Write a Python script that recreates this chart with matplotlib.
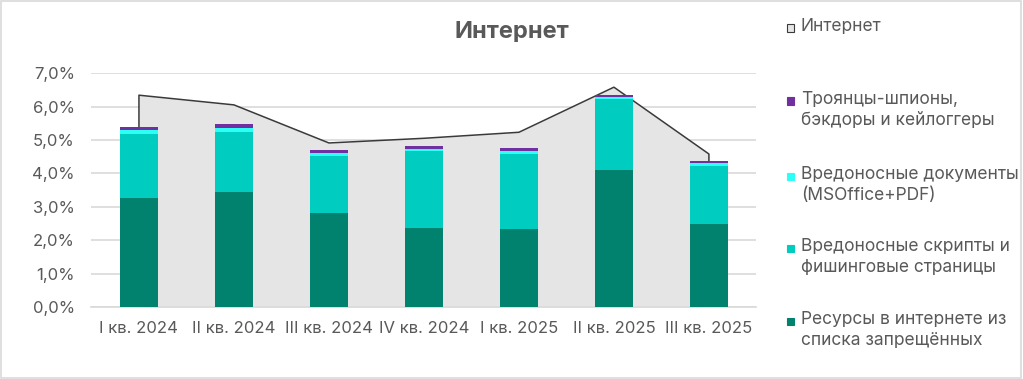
"""Internet threats by quarter: stacked bars over the total area."""
import matplotlib
matplotlib.use("Agg")
import matplotlib.pyplot as plt
from matplotlib.patches import Rectangle
from matplotlib.ticker import FuncFormatter

plt.rcParams["font.family"] = ["Inter", "DejaVu Sans"]

quarters = ["I кв. 2024", "II кв. 2024", "III кв. 2024", "IV кв. 2024",
            "I кв. 2025", "II кв. 2025", "III кв. 2025"]
total = [6.34, 6.05, 4.91, 5.05, 5.23, 6.58, 4.58]
banned = [3.27, 3.44, 2.81, 2.37, 2.34, 4.10, 2.49]
scripts = [1.91, 1.80, 1.71, 2.30, 2.24, 2.13, 1.73]
documents = [0.12, 0.12, 0.09, 0.06, 0.09, 0.06, 0.09]
trojans = [0.09, 0.12, 0.09, 0.09, 0.09, 0.06, 0.06]

series = [
    (banned, "#00826F", "Ресурсы в интернете из\nсписка запрещённых"),
    (scripts, "#00CCBF", "Вредоносные скрипты и\nфишинговые страницы"),
    (documents, "#2BFFF6", "Вредоносные документы\n(MSOffice+PDF)"),
    (trojans, "#7030A0", "Троянцы-шпионы,\nбэкдоры и кейлоггеры"),
]

GREY = "#595959"
fig = plt.figure(figsize=(10.23, 3.79), dpi=100, facecolor="white")
fig.patches.append(Rectangle((0.001, 0.002), 0.997, 0.995, transform=fig.transFigure,
                             fill=False, edgecolor="#D9D9D9", lw=1.2))
ax = fig.add_axes([0.0894, 0.190, 0.650, 0.617])

x = list(range(len(quarters)))
ax.fill_between(x, total, 0, color="#E5E5E5", lw=0, zorder=1)
ax.plot([x[0]] + x + [x[-1]], [0] + total + [0], color="#3A3A3A", lw=1.1, zorder=2)

bottom = [0.0] * len(x)
for vals, col, _ in series:
    ax.bar(x, vals, width=0.4, bottom=bottom, color=col, lw=0, zorder=3)
    bottom = [b + v for b, v in zip(bottom, vals)]

ax.set_xlim(-0.5, len(x) - 0.5)
ax.set_ylim(0, 7)
ax.set_yticks(range(8))
ax.yaxis.set_major_formatter(FuncFormatter(lambda v, p: f"{v:.1f}%".replace(".", ",")))
ax.grid(axis="y", color="#D9D9D9", lw=1.2, zorder=0)
ax.set_axisbelow(True)
for s in ["top", "right", "left"]:
    ax.spines[s].set_visible(False)
ax.spines["bottom"].set_color("#D9D9D9")
ax.spines["bottom"].set_linewidth(1.2)
ax.set_xticks(x)
ax.set_xticklabels(quarters)
ax.tick_params(axis="both", length=0, labelsize=12, labelcolor=GREY)
ax.tick_params(axis="y", pad=12)
ax.tick_params(axis="x", pad=10)

fig.text(0.5, 0.916, "Интернет", ha="center", va="center", fontsize=17,
         fontweight="bold", color=GREY)

# legend, drawn by hand to match the uneven spacing
W, H = 1023.0, 379.0
entries = [("Интернет", "#E5E5E5", 28)] + [(lab, col, y) for (_, col, lab), y in
                                          zip(series[::-1], [101, 176, 248, 321])]
for lab, col, ytop in entries:
    fig.patches.append(Rectangle((787 / W, 1 - (ytop + 3.5) / H), 7 / W, 7 / H,
                                 transform=fig.transFigure, facecolor=col,
                                 edgecolor="#3A3A3A" if lab == "Интернет" else col, lw=0.8))
    fig.text(801 / W, 1 - (ytop - 10) / H, lab, ha="left", va="top", fontsize=12.5,
             color=GREY, linespacing=1.3)

fig.savefig("out.png", dpi=100, facecolor="white")
